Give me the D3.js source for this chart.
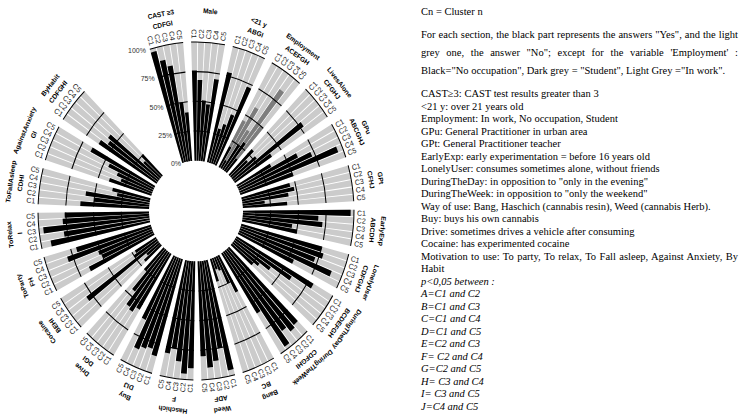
<!DOCTYPE html>
<html>
<head>
<meta charset="utf-8">
<script src="https://cdn.jsdelivr.net/npm/d3@7"></script>
<style>
  body { margin: 0; background: #fff; }
  .glabel { font-family: "Liberation Sans", Arial, sans-serif; font-weight: bold; font-size: 6.5px; fill: #000; }
  .clabel { font-family: "Liberation Sans", Arial, sans-serif; font-size: 7px; fill: #222; }
  .tick { font-family: "Liberation Sans", Arial, sans-serif; font-size: 7px; fill: #333; }
  .note { font-family: "Liberation Serif", "Times New Roman", serif; font-size: 10.5px; fill: #000; }
</style>
</head>
<body>
<svg id="chart" width="740" height="416"></svg>
<script>
"use strict";

const clusters = ["C1", "C2", "C3", "C4", "C5"];
const varNames = ["CAST ≥3", "Male", "<21 y", "Employment", "LivesAlone", "GPu", "GPt",
    "EarlyExp", "LonelyUser", "DuringTheDay", "DuringTheWeek", "Bang", "Weed", "Haschich",
    "Buy", "Drive", "Cocaine", "ToParty", "ToRelax", "ToFallAsleep", "AgainstAnxiety", "ByHabit"];
const sigLetters = ["CDFGI", "", "ABGI", "ACEFGH", "CFGHJ", "ABCGHJ", "CFHJ",
    "ABCDH", "CDFGHJ", "BCDEFGH", "CDFGHI", "BC", "ADF", "F",
    "DIJ", "DGI", "BEHI", "FH", "I", "CDHI", "GI", "CDFGHI"];

// share of "Yes" answers in %, C1..C5
const castYes = [97, 88, 82, 50, 41];
const maleYes = [76, 68, 51, 48, 70];
const under21Yes = [78, 30, 35, 45, 72];
const noOccupation = [20, 8, 25, 30, 15];   // Employment: black part
const student = [25, 52, 15, 55, 35];       // Employment: dark grey part
const livesAloneYes = [30, 20, 28, 78, 40];
const gpuYes = [35, 60, 72, 95, 50];
const gptYes = [45, 48, 42, 20, 40];
const earlyExpYes = [97, 68, 72, 45, 50];
const lonelyUserYes = [75, 78, 72, 90, 55];
const duringDayYes = [80, 60, 40, 30, 25];
const duringWeekYes = [88, 90, 85, 97, 60];
const bangYes = [35, 25, 12, 10, 20];
const weedYes = [95, 75, 85, 90, 80];
const haschichYes = [90, 95, 85, 75, 80];
const buyYes = [85, 80, 82, 85, 60];
const driveYes = [55, 60, 58, 45, 25];
const cocaineYes = [20, 15, 80, 25, 22];
const toPartyYes = [65, 50, 52, 80, 70];
const toRelaxYes = [91, 78, 96, 78, 76];
const toFallAsleepYes = [62, 50, 58, 30, 35];
const againstAnxietyYes = [40, 30, 35, 45, 65];
const byHabitYes = [62, 55, 58, 20, 25];

const yesValues = [castYes, maleYes, under21Yes, noOccupation, livesAloneYes, gpuYes, gptYes,
    earlyExpYes, lonelyUserYes, duringDayYes, duringWeekYes, bangYes, weedYes, haschichYes,
    buyYes, driveYes, cocaineYes, toPartyYes, toRelaxYes, toFallAsleepYes, againstAnxietyYes, byHabitYes];

const tickValues = [0, 25, 50, 75, 100];
const tickLabels = ["0%", "25%", "50%", "75%", "100%"];
const gridValues = [25, 50, 75, 100];

const introLines = [
    "Cn = Cluster n",
    "For each section, the black part represents the answers \"Yes\", and the light",
    "grey one, the answer \"No\"; except for the variable 'Employment' :",
    "Black=\"No occupation\", Dark grey = \"Student\", Light Grey =\"In work\"."
];
const glossaryLines = [
    "CAST\u22653: CAST test results greater than 3",
    "<21 y: over 21 years old",
    "Employment: In work, No occupation, Student",
    "GPu: General Practitioner in urban area",
    "GPt: General Practitioner teacher",
    "EarlyExp: early experimentation = before 16 years old",
    "LonelyUser: consumes sometimes alone, without friends",
    "DuringTheDay: in opposition to \"only in the evening\"",
    "DuringTheWeek: in opposition to \"only the weekend\"",
    "Way of use: Bang, Haschich (cannabis resin), Weed (cannabis Herb).",
    "Buy: buys his own cannabis",
    "Drive: sometimes drives a vehicle after consuming",
    "Cocaine: has experimented cocaine",
    "Motivation to use: To party, To relax, To Fall asleep, Against Anxiety, By",
    "Habit"
];
const pairLines = [
    "p<0,05 between :",
    "A=C1 and C2", "B=C1 and C3", "C=C1 and C4", "D=C1 and C5", "E=C2 and C3",
    "F= C2 and C4", "G=C2 and C5", "H= C3 and C4", "I= C3 and C5", "J=C4 and C5"
];

const msm = {
    cx: 196,
    cy: 211,
    stretchY: 1.07,
    innerR: 47,
    outerR: 158,
    startDeg: -17,
    axisGapSlots: 10,
    textX: 421,
    textRight: 738
};

const svg = d3.select("#chart");
// the figure is slightly taller than wide
const chart = svg.append("g")
    .attr("transform", "translate(" + msm.cx + "," + msm.cy + ") scale(1," + msm.stretchY + ")");

// angular slots: 5 bars + 1 empty per variable, plus a wider gap for the axis
let slots = [];
varNames.forEach(v => {
    clusters.forEach(c => slots.push(v + "|" + c));
    slots.push(v + "|gap");
});
for (let k = 0; k < msm.axisGapSlots; k++) slots.push("axis|" + k);

const start = msm.startDeg * Math.PI / 180;
const x = d3.scaleBand().domain(slots).range([start, start + 2 * Math.PI]).paddingInner(0.14);
const y = d3.scaleLinear().domain([0, 100]).range([msm.innerR, msm.outerR]);

const arc = d3.arc()
    .innerRadius(d => d.r0)
    .outerRadius(d => d.r1)
    .startAngle(d => d.a0)
    .endAngle(d => d.a1);

let bars = [];
varNames.forEach((v, i) => {
    clusters.forEach((c, j) => {
        let key = v + "|" + c;
        bars.push({ v: v, c: c, i: i, j: j, a0: x(key), a1: x(key) + x.bandwidth(), yes: yesValues[i][j] });
    });
});

// light grey background ("No")
chart.append("g").selectAll("path")
    .data(bars)
    .join("path")
    .attr("d", d => arc({ r0: y(0), r1: y(100), a0: d.a0, a1: d.a1 }))
    .attr("fill", "#cbcbcb");

// black part ("Yes")
chart.append("g").selectAll("path")
    .data(bars)
    .join("path")
    .attr("d", d => arc({ r0: y(0), r1: y(d.yes), a0: d.a0, a1: d.a1 }))
    .attr("fill", "#000");

// Employment: dark grey = student
let empIndex = varNames.indexOf("Employment");
chart.append("g").selectAll("path")
    .data(bars.filter(d => d.i === empIndex))
    .join("path")
    .attr("d", d => arc({ r0: y(d.yes), r1: y(d.yes + student[d.j]), a0: d.a0, a1: d.a1 }))
    .attr("fill", "#7d7d7d");

// group spans
let groups = varNames.map((v, i) => {
    let a0 = x(v + "|C1");
    let a1 = x(v + "|C5") + x.bandwidth();
    return { v: v, sig: sigLetters[i], a0: a0, a1: a1, mid: (a0 + a1) / 2 };
});

// grid arcs at 25/50/75/100 % for every group
let grid = [];
groups.forEach(gr => gridValues.forEach(t => grid.push({ a0: gr.a0, a1: gr.a1, t: t })));
chart.append("g").selectAll("path")
    .data(grid)
    .join("path")
    .attr("d", d => arc({ r0: y(d.t) - 0.5, r1: y(d.t) + 0.5, a0: d.a0, a1: d.a1 }))
    .attr("fill", "#000");

const deg = a => a * 180 / Math.PI;
const norm = a => ((deg(a) % 360) + 360) % 360;

// cluster labels C1..C5 (radial)
chart.append("g").selectAll("text")
    .data(bars)
    .join("text")
    .attr("class", "clabel")
    .attr("dy", "0.35em")
    .attr("transform", d => {
        let a = norm((d.a0 + d.a1) / 2);
        if (a < 180) return "rotate(" + (a - 90) + ") translate(" + (msm.outerR + 3) + ",0)";
        return "rotate(" + (a + 90) + ") translate(" + (-(msm.outerR + 3)) + ",0)";
    })
    .attr("text-anchor", d => norm((d.a0 + d.a1) / 2) < 180 ? "start" : "end")
    .text(d => d.c);

// variable names and significance letters (tangential)
let glab = chart.append("g").selectAll("g")
    .data(groups)
    .join("g")
    .attr("transform", d => "rotate(" + deg(d.mid) + ")");
glab.append("text")
    .attr("class", "glabel")
    .attr("text-anchor", "middle")
    .attr("y", -185)
    .text(d => d.v);
glab.append("text")
    .attr("class", "glabel")
    .attr("text-anchor", "middle")
    .attr("y", -175)
    .text(d => d.sig);

// radial axis labels in the gap
const axisAngle = -18.5 * Math.PI / 180;
chart.append("g").selectAll("text")
    .data(tickValues)
    .join("text")
    .attr("class", "tick")
    .attr("text-anchor", "end")
    .attr("dy", "0.35em")
    .attr("x", d => y(d) * Math.sin(axisAngle))
    .attr("y", d => -y(d) * Math.cos(axisAngle))
    .text((d, i) => tickLabels[i]);

// notes on the right
function justify(sel, width) {
    sel.each(function () {
        let t = d3.select(this);
        let w = this.getComputedTextLength();
        let spaces = (t.text().match(/ /g) || []).length;
        if (spaces > 0 && w < width) t.attr("word-spacing", (width - w) / spaces);
    });
}

let notes = svg.append("g").attr("class", "note");
let introY = [15, 38, 56, 74];
introLines.forEach((line, i) => {
    let t = notes.append("text").attr("x", msm.textX).attr("y", introY[i]).text(line);
    if (i === 1 || i === 2) justify(t, msm.textRight - msm.textX);
});

const lineStep = 12.5;
const listTop = 97;
glossaryLines.forEach((line, i) => {
    let t = notes.append("text").attr("x", msm.textX).attr("y", listTop + i * lineStep).text(line);
    if (line.startsWith("Motivation")) justify(t, msm.textRight - msm.textX);
});
pairLines.forEach((line, i) => {
    notes.append("text")
        .attr("x", msm.textX)
        .attr("y", listTop + (glossaryLines.length + i) * lineStep)
        .style("font-style", "italic")
        .text(line);
});
</script>
</body>
</html>
